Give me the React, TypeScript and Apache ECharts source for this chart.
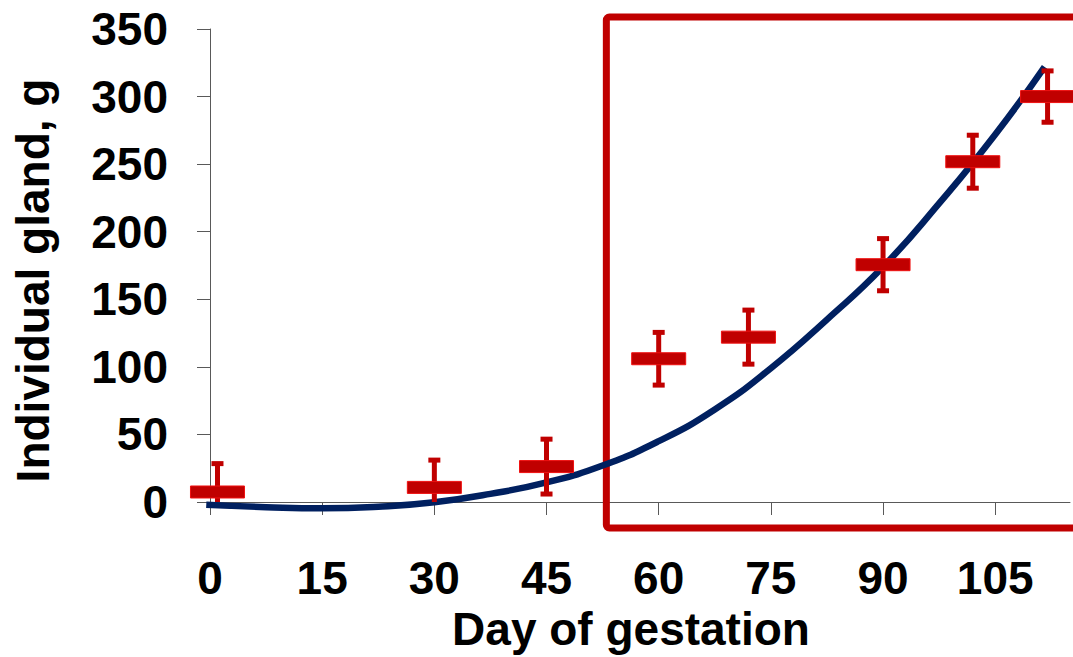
import React, { useEffect, useRef } from "react";
import * as echarts from "echarts";

// ---- data ----
const xTicks = [0, 15, 30, 45, 60, 75, 90, 105];
const yMin = 0;
const yMax = 350;
const xMin = 0;
const xMax = 115;

// observed points (day, mean, error)
const obsDays = [1, 30, 45, 60, 72, 90, 102, 112];
const obsMeans = [7.4, 10.8, 26.2, 106, 122, 175.6, 251.8, 300];
const obsErrs = [21, 20.2, 20.3, 19.5, 20, 19.3, 19.6, 19];

// trend curve points
const curveDays = [-0.5, 7.5, 15, 22.5, 30, 37.5, 45, 52.5, 60, 67.5, 75, 82.5, 90, 97.5, 105, 111.6];
const curveValues = [-2, -3.8, -4.7, -3.5, -0.2, 6, 14.5, 27, 45, 68.5, 99, 135, 174, 221, 272, 322];

// highlighted region (annotation box)
const boxX0 = 53;
const boxX1 = 130;
const boxYTop = 358.8;
const boxYBottom = -19.2;

const RED = "#C00000";
const NAVY = "#002060";
const FONT = "'Liberation Sans', Arial, sans-serif";

export default function App() {
  const ref = useRef<HTMLDivElement>(null);

  useEffect(() => {
    if (!ref.current) return;
    const chart = echarts.init(ref.current, null, { renderer: "svg" });

    const curveData = curveDays.map((d, i) => [d, curveValues[i]]);
    const obsData = obsDays.map((d, i) => [d, obsMeans[i], obsErrs[i]]);

    const labelStyle = {
      fontSize: 46,
      fontWeight: "bold" as const,
      color: "#000",
      fontFamily: FONT,
    };

    chart.setOption({
      animation: false,
      grid: { left: 210, right: 3, top: 29, bottom: 154, containLabel: false },
      xAxis: {
        type: "value",
        min: xMin,
        max: xMax,
        interval: 15,
        name: "Day of gestation",
        nameLocation: "middle",
        nameGap: 104,
        nameTextStyle: { ...labelStyle, padding: [0, 18, 0, 0] },
        axisLine: { show: true, lineStyle: { color: "#595959", width: 1 } },
        axisTick: { show: true, length: 13, customValues: xTicks, lineStyle: { color: "#595959" } },
        axisLabel: { ...labelStyle, margin: 53, customValues: xTicks },
        splitLine: { show: false },
      },
      yAxis: {
        type: "value",
        min: yMin,
        max: yMax,
        interval: 50,
        name: "Individual gland, g",
        nameLocation: "middle",
        nameGap: 154,
        nameTextStyle: { ...labelStyle, padding: [0, 30, 0, 0] },
        axisLine: { show: true, lineStyle: { color: "#595959", width: 1 } },
        axisTick: { show: true, length: 13, lineStyle: { color: "#595959" } },
        axisLabel: { ...labelStyle, margin: 42 },
        splitLine: { show: false },
      },
      series: [
        {
          type: "custom",
          name: "box",
          clip: false,
          z: 1,
          silent: true,
          encode: { x: [0, 2], y: [1, 3] },
          data: [[boxX0, boxYTop, boxX1, boxYBottom]],
          renderItem: (params: any, api: any) => {
            const p1 = api.coord([api.value(0), api.value(1)]);
            const p2 = api.coord([api.value(2), api.value(3)]);
            return {
              type: "rect",
              shape: { x: p1[0], y: p1[1], width: p2[0] - p1[0], height: p2[1] - p1[1], r: 3 },
              style: { fill: "none", stroke: RED, lineWidth: 7 },
            };
          },
        },
        {
          type: "line",
          name: "trend",
          data: curveData,
          smooth: 0.5,
          showSymbol: false,
          clip: false,
          z: 2,
          lineStyle: { color: NAVY, width: 6.5, cap: "butt" },
        },
        {
          type: "custom",
          name: "errors",
          clip: true,
          z: 3,
          encode: { x: 0, y: 1 },
          data: obsData,
          renderItem: (params: any, api: any) => {
            const x = api.value(0);
            const m = api.value(1);
            const e = api.value(2);
            const hiVal = Math.min(m + e, yMax);
            const loVal = Math.max(m - e, yMin);
            const hi = api.coord([x, hiVal]);
            const lo = api.coord([x, loVal]);
            const children: any[] = [
              {
                type: "line",
                shape: { x1: hi[0], y1: hi[1], x2: lo[0], y2: lo[1] },
                style: { stroke: RED, lineWidth: 5 },
              },
            ];
            if (m + e <= yMax) {
              children.push({
                type: "rect",
                shape: { x: hi[0] - 6, y: hi[1] - 2.5, width: 12, height: 5 },
                style: { fill: RED },
              });
            }
            if (m - e >= yMin) {
              children.push({
                type: "rect",
                shape: { x: lo[0] - 6, y: lo[1] - 2.5, width: 12, height: 5 },
                style: { fill: RED },
              });
            }
            return { type: "group", children };
          },
        },
        {
          type: "custom",
          name: "means",
          clip: false,
          z: 4,
          encode: { x: 0, y: 1 },
          data: obsData,
          renderItem: (params: any, api: any) => {
            const c = api.coord([api.value(0), api.value(1)]);
            return {
              type: "rect",
              shape: { x: c[0] - 27, y: c[1] - 6, width: 54, height: 12 },
              style: { fill: RED, stroke: "#F01010", lineWidth: 1 },
            };
          },
        },
      ],
    });

    return () => {
      chart.dispose();
    };
  }, []);

  return (
    <div
      ref={ref}
      style={{ position: "absolute", left: 0, top: 0, width: 1073, height: 657, background: "#fff" }}
    />
  );
}
